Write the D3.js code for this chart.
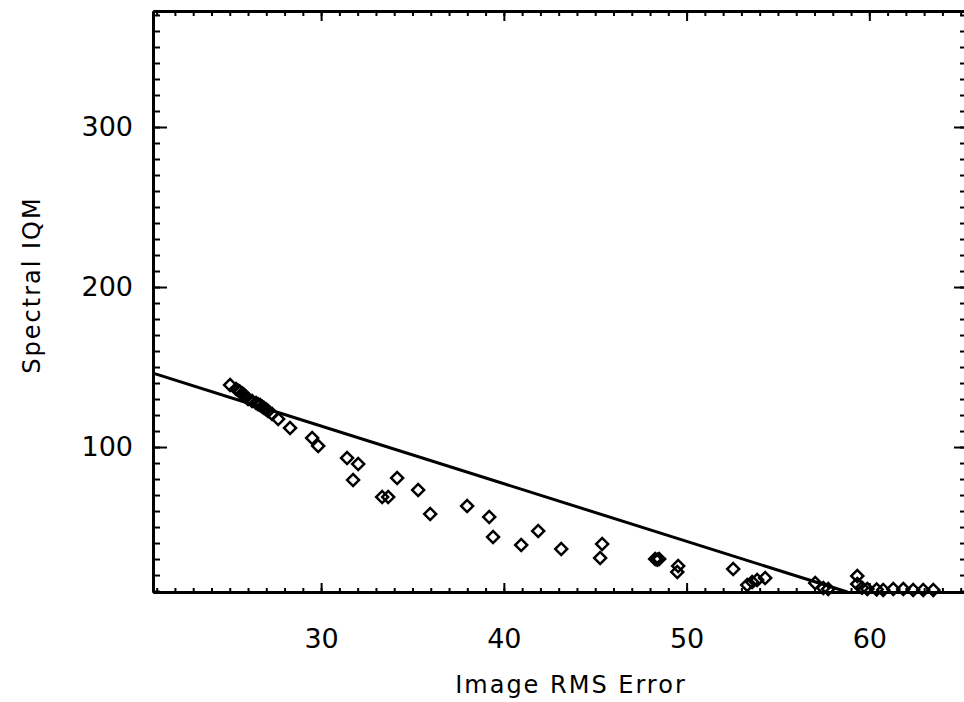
<!DOCTYPE html>
<html>
<head>
<meta charset="utf-8">
<script src="https://cdn.jsdelivr.net/npm/d3@7"></script>
<style>
    body { margin: 0; background: white; }
    svg { display: block; }
</style>
</head>
<body>
<div id="chart"></div>
<script>
// Scatter values: image RMS error (x) vs spectral IQM (y)
const rmsError = [
    25.02, 25.35, 25.50, 25.57, 25.70, 25.79, 25.90, 26.00, 26.22, 26.44,
    26.55, 26.66, 26.78, 26.88, 27.00, 27.10, 27.32, 27.65, 28.30, 29.51,
    29.84, 31.42, 32.03, 31.75, 33.34, 33.67, 34.16, 35.31, 35.97, 37.99,
    39.20, 39.41, 40.95, 41.88, 43.14, 45.38, 45.27, 48.28, 48.40, 48.50,
    49.54, 49.49, 52.55, 53.32, 53.59, 53.86, 54.30, 57.04, 57.48, 57.75,
    59.34, 59.34, 59.60, 59.89, 60.40, 60.76, 61.31, 61.86, 62.40, 62.95,
    63.50
];
const spectralIqm = [
    138.8, 136.3, 135.0, 134.4, 133.4, 132.5, 131.2, 130.0, 128.8, 127.5,
    126.8, 126.3, 125.2, 124.4, 123.4, 122.5, 120.6, 117.5, 111.9, 105.6,
    100.6, 93.1, 89.4, 79.4, 68.8, 68.8, 80.6, 73.1, 58.1, 63.1,
    56.3, 43.8, 38.8, 47.5, 36.3, 39.4, 30.6, 30.0, 29.6, 30.0,
    25.6, 21.9, 23.8, 13.8, 15.6, 16.9, 18.1, 15.0, 11.9, 11.3,
    19.4, 14.4, 12.0, 11.3, 11.0, 10.6, 11.3, 11.3, 10.6, 10.6,
    10.6
];

// Straight fit line, end points
const fitX = [20.8, 58.8];
const fitY = [146.2, 9.4];

// Tick values
const xMajorTicks = [30, 40, 50, 60];
const xMinorTicks = d3.range(21, 66);
const yMajorTicks = [100, 200, 300];
const yMinorTicks = d3.range(10, 373, 10);

const width = 964,
    height = 702,
    plotLeft = 153,
    plotRight = 968,
    plotTop = 11,
    plotBottom = 592;

let svg = d3.select("#chart").append("svg")
    .attr("width", width)
    .attr("height", height);

let x = d3.scaleLinear().domain([20.8, 65.4]).range([plotLeft, plotRight]),
    y = d3.scaleLinear().domain([9.4, 372.5]).range([plotBottom, plotTop]);

// Draws one set of ticks (major or minor) along one side of the frame
function drawAxis(axis, transform, labels) {
    let g = svg.append("g")
        .attr("transform", transform)
        .call(axis);
    g.select(".domain").attr("stroke-width", 3);
    g.selectAll(".tick line").attr("stroke-width", 2);
    g.selectAll(".tick text")
        .style("font-family", "'DejaVu Sans', sans-serif")
        .style("font-size", "27px")
        .attr("fill", "black");
    if (!labels) g.selectAll(".tick text").remove();
    return g;
}

// Bottom
drawAxis(d3.axisBottom(x).tickValues(xMinorTicks).tickSizeInner(-4).tickSizeOuter(0), `translate(0,${plotBottom})`, false);
drawAxis(d3.axisBottom(x).tickValues(xMajorTicks).tickSizeInner(-9).tickSizeOuter(0).tickPadding(37), `translate(0,${plotBottom})`, true);
// Top
drawAxis(d3.axisTop(x).tickValues(xMinorTicks).tickSizeInner(-5).tickSizeOuter(0), `translate(0,${plotTop})`, false);
drawAxis(d3.axisTop(x).tickValues(xMajorTicks).tickSizeInner(-10).tickSizeOuter(0), `translate(0,${plotTop})`, false);
// Left
drawAxis(d3.axisLeft(y).tickValues(yMinorTicks).tickSizeInner(-7).tickSizeOuter(0), `translate(${plotLeft},0)`, false);
drawAxis(d3.axisLeft(y).tickValues(yMajorTicks).tickSizeInner(-14).tickSizeOuter(0).tickPadding(20), `translate(${plotLeft},0)`, true);
// Right (frame line sits just past the picture edge)
drawAxis(d3.axisRight(y).tickValues(yMinorTicks).tickSizeInner(-8).tickSizeOuter(0), `translate(${plotRight},0)`, false);
drawAxis(d3.axisRight(y).tickValues(yMajorTicks).tickSizeInner(-14).tickSizeOuter(0), `translate(${plotRight},0)`, false);

// Fit line
svg.append("path")
    .datum(d3.zip(fitX, fitY))
    .attr("fill", "none")
    .attr("stroke", "black")
    .attr("stroke-width", 3)
    .attr("d", d3.line().x(d => x(d[0])).y(d => y(d[1])));

// Diamonds
let diamond = d3.symbol().type(d3.symbolSquare).size(72);
svg.append("g")
    .selectAll("path")
    .data(d3.zip(rmsError, spectralIqm))
    .join("path")
        .attr("transform", d => `translate(${x(d[0])},${y(d[1])}) rotate(45)`)
        .attr("d", diamond)
        .attr("fill", "none")
        .attr("stroke", "black")
        .attr("stroke-width", 2.5);

// Axis titles
svg.append("text")
    .attr("x", 571)
    .attr("y", 693)
    .attr("text-anchor", "middle")
    .style("font-family", "'DejaVu Sans', sans-serif")
    .style("font-size", "24px")
    .style("letter-spacing", "2px")
    .text("Image RMS Error");

svg.append("text")
    .attr("transform", "translate(40,285) rotate(-90)")
    .attr("text-anchor", "middle")
    .style("font-family", "'DejaVu Sans', sans-serif")
    .style("font-size", "24px")
    .style("letter-spacing", "2px")
    .text("Spectral IQM");
</script>
</body>
</html>
